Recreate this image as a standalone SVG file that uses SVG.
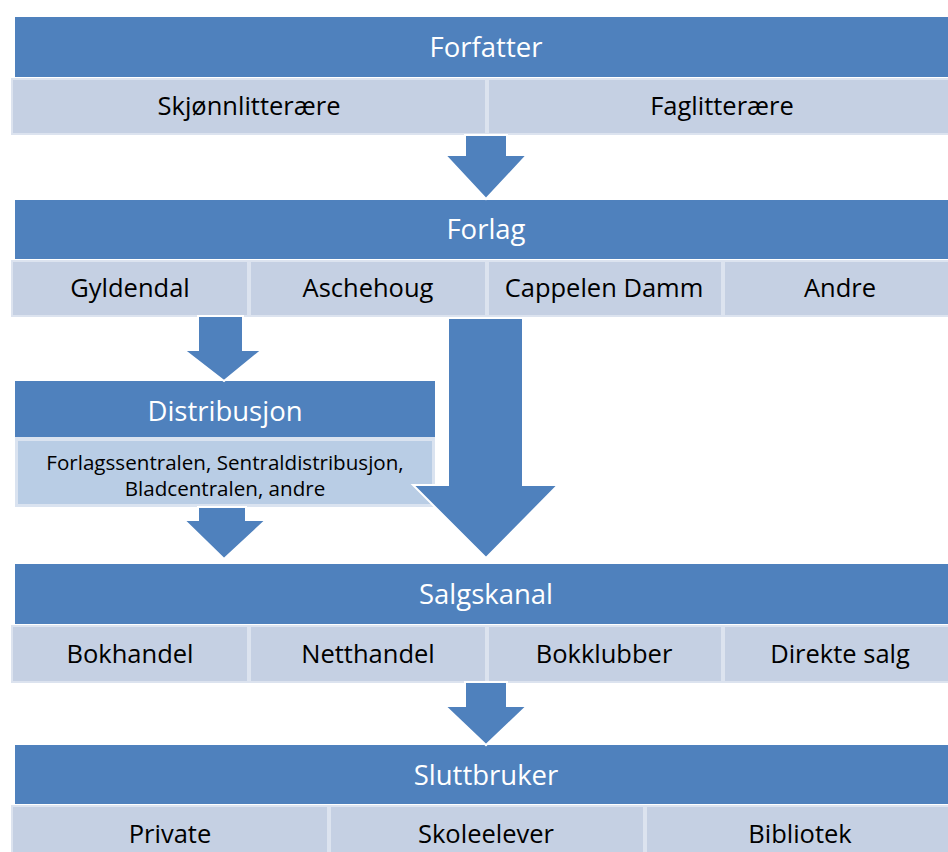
<svg xmlns="http://www.w3.org/2000/svg" width="948" height="852" viewBox="0 0 948 852">
<style>
.hd{fill:#4F81BD}
.cell{fill:#C5D0E3;stroke:#DCE3EF;stroke-width:2}
.arr{fill:#4F81BD;stroke:#FFFFFF;stroke-width:2}
.ht{font-family:"Open Sans","Liberation Sans",sans-serif;font-size:27.5px;fill:#FFFFFF;text-anchor:middle}
.ct{font-family:"Open Sans","Liberation Sans",sans-serif;font-size:25.5px;fill:#000000;text-anchor:middle}
.st{font-family:"Open Sans","Liberation Sans",sans-serif;font-size:20.6px;fill:#000000;text-anchor:middle}
</style>
<rect width="948" height="852" fill="#FFFFFF"/>
<g id="forfatter">
<rect class="hd" x="15" y="17" width="940" height="60"/>
<text class="ht" x="486" y="57">Forfatter</text>
<rect class="cell" x="12" y="79" width="474" height="55"/>
<rect class="cell" x="488" y="79" width="470" height="55"/>
<text class="ct" x="249" y="115">Skjønnlitterære</text>
<text class="ct" x="722" y="115">Faglitterære</text>
</g>
<g id="forlag">
<rect class="hd" x="15" y="200" width="940" height="59"/>
<text class="ht" x="486" y="239">Forlag</text>
<rect class="cell" x="12" y="261" width="236" height="55"/>
<rect class="cell" x="250" y="261" width="236" height="55"/>
<rect class="cell" x="488" y="261" width="234" height="55"/>
<rect class="cell" x="724" y="261" width="234" height="55"/>
<text class="ct" x="130" y="297">Gyldendal</text>
<text class="ct" x="368" y="297">Aschehoug</text>
<text class="ct" x="604" y="297">Cappelen Damm</text>
<text class="ct" x="840" y="297">Andre</text>
</g>
<g id="distribusjon">
<rect class="hd" x="15" y="381" width="420" height="56"/>
<text class="ht" x="225" y="421">Distribusjon</text>
<rect x="15" y="437" width="420" height="70" fill="#DAE3F0"/>
<rect x="18" y="441" width="414" height="63" fill="#B9CDE5"/>
<text class="st" x="225" y="470">Forlagssentralen, Sentraldistribusjon,</text>
<text class="st" x="225" y="496">Bladcentralen, andre</text>
</g>
<g id="salgskanal">
<rect class="hd" x="15" y="564" width="940" height="60"/>
<text class="ht" x="486" y="604">Salgskanal</text>
<rect class="cell" x="12" y="626" width="236" height="56"/>
<rect class="cell" x="250" y="626" width="236" height="56"/>
<rect class="cell" x="488" y="626" width="234" height="56"/>
<rect class="cell" x="724" y="626" width="234" height="56"/>
<text class="ct" x="130" y="663">Bokhandel</text>
<text class="ct" x="368" y="663">Netthandel</text>
<text class="ct" x="604" y="663">Bokklubber</text>
<text class="ct" x="840" y="663">Direkte salg</text>
</g>
<g id="sluttbruker">
<rect class="hd" x="15" y="745" width="940" height="59"/>
<text class="ht" x="486" y="785">Sluttbruker</text>
<rect class="cell" x="12" y="806" width="316" height="56"/>
<rect class="cell" x="330" y="806" width="314" height="56"/>
<rect class="cell" x="646" y="806" width="312" height="56"/>
<text class="ct" x="170" y="843">Private</text>
<text class="ct" x="486" y="843">Skoleelever</text>
<text class="ct" x="800" y="843">Bibliotek</text>
</g>
<g id="connectors">
<polygon class="arr" points="465,135 507,135 507,155 527,155 486,199 445,155 465,155"/>
<polygon class="arr" points="198,316 243,316 243,350 262,350 224,381 184,350 198,350"/>
<polygon class="arr" points="198,507 246,507 246,520 266,520 224,559 184,520 198,520"/>
<polygon class="arr" stroke-width="3" points="448,318 523,318 523,485 558,485 486,558 413,485 448,485"/>
<polygon class="arr" points="465,682 507,682 507,706 527,706 486,745 445,706 465,706"/>
</g>
</svg>
